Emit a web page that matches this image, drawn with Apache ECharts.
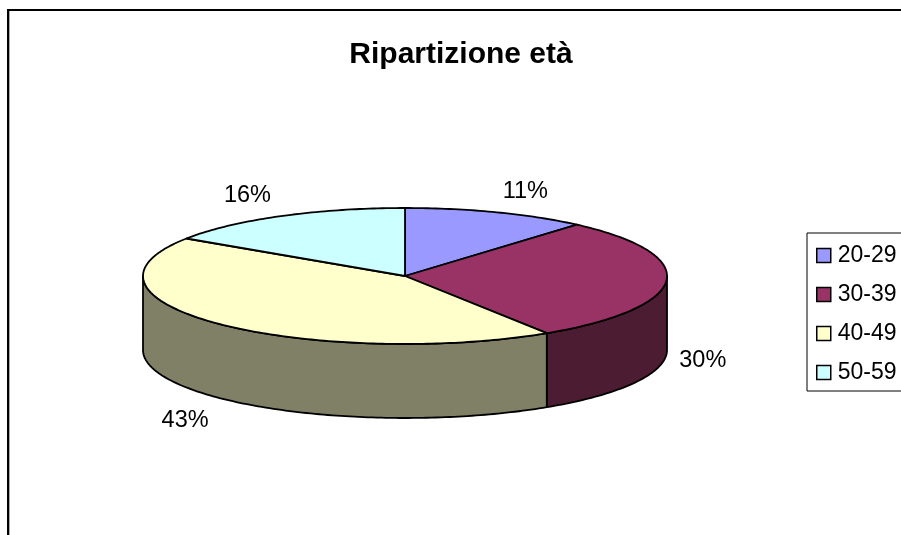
<!DOCTYPE html>
<html>
<head>
<meta charset="utf-8">
<title>Ripartizione età</title>
<style>
  html, body { margin: 0; padding: 0; background: #fff; }
  #main-chart { width: 901px; height: 535px; }
</style>
<script src="https://cdn.jsdelivr.net/npm/echarts@6/dist/echarts.min.js"></script>
</head>
<body>
<div id="main-chart"></div>
<script>
const categories = ["20-29", "30-39", "40-49", "50-59"];
const shares = [11.4, 29.5, 43.4, 15.7];
const topColors = ["#9999ff", "#993366", "#ffffcc", "#ccffff"];
const sideColors = ["#4c4c80", "#4c1c33", "#808066", "#668080"];

// flattened pie: ellipse on the page plus the height of the wall
const cx = 405, cy = 276, rx = 262, ry = 68, depth = 74;
const total = shares.reduce((a, b) => a + b, 0);
const font = '"Liberation Sans", Arial, sans-serif';

function toAngle(v) {
  return echarts.number.linearMap(v, [0, total], [0, 360]);
}

// angle is clockwise from the top of the pie
function rim(deg, drop) {
  const a = deg * Math.PI / 180;
  return [cx + rx * Math.sin(a), cy - ry * Math.cos(a) + (drop || 0)];
}

function arc(from, to, drop) {
  const pts = [];
  const steps = Math.max(1, Math.ceil(to - from));
  for (let i = 0; i <= steps; i++) {
    pts.push(rim(from + (to - from) * i / steps, drop));
  }
  return pts;
}

function clamp(v) {
  return Math.max(-1, Math.min(1, v));
}

function sliceItem(index, params, api) {
  const before = shares.slice(0, index).reduce((a, b) => a + b, 0);
  const start = toAngle(before);
  const end = toAngle(before + api.value(0));
  const stroke = { stroke: "#000", lineWidth: 1.8, lineJoin: "round" };
  const children = [];

  // wall is only seen on the front half
  const wallFrom = Math.max(start, 90);
  const wallTo = Math.min(end, 270);
  if (wallTo > wallFrom) {
    const points = arc(wallFrom, wallTo, 0).concat(arc(wallFrom, wallTo, depth).reverse());
    children.push({
      type: "polygon",
      shape: { points },
      style: { fill: sideColors[index], ...stroke }
    });
  }

  children.push({
    type: "polygon",
    shape: { points: [[cx, cy]].concat(arc(start, end, 0)) },
    style: { fill: topColors[index], ...stroke }
  });

  const mid = (start + end) / 2;
  const a = mid * Math.PI / 180;
  const anchor = rim(mid, mid > 90 && mid < 270 ? depth : 0);
  children.push({
    type: "text",
    x: anchor[0] + 35 * clamp(Math.sin(a) * 2.2) + 1.5,
    y: anchor[1] - 22 * clamp(Math.cos(a) * 3) + 1,
    style: {
      text: Math.round(api.value(0) / total * 100) + "%",
      fontFamily: font,
      fontSize: 23.5,
      fill: "#000",
      align: "center",
      verticalAlign: "middle"
    }
  });

  return { type: "group", children };
}

const chart = echarts.init(document.getElementById("main-chart"), null, { renderer: "canvas" });

chart.setOption({
  animation: false,
  backgroundColor: "#fff",
  title: {
    text: "Ripartizione età",
    left: 461,
    top: 40,
    padding: 0,
    textAlign: "center",
    textStyle: { fontFamily: font, fontSize: 30, fontWeight: "bold", color: "#000" }
  },
  legend: {
    data: categories,
    orient: "vertical",
    left: 807,
    top: 233,
    padding: [11, 30, 7, 9],
    itemWidth: 14,
    itemHeight: 14,
    itemGap: 16,
    icon: "rect",
    selectedMode: false,
    borderColor: "#000",
    borderWidth: 1,
    backgroundColor: "#fff",
    itemStyle: { borderColor: "#000", borderWidth: 1.5 },
    textStyle: { fontFamily: font, fontSize: 23, color: "#000", padding: [0, 0, 0, 2] }
  },
  graphic: [{
    type: "rect",
    shape: { x: 8, y: 10, width: 1200, height: 900 },
    style: { fill: null, stroke: "#000", lineWidth: 2 },
    silent: true,
    z: 0
  }, {
    type: "line",
    shape: { x1: 9.5, y1: 11, x2: 9.5, y2: 535 },
    style: { stroke: "#aaa", lineWidth: 1 },
    silent: true,
    z: 0
  }],
  series: categories.map((name, i) => ({
    type: "custom",
    name,
    coordinateSystem: "none",
    itemStyle: { color: topColors[i] },
    renderItem: (params, api) => sliceItem(i, params, api),
    data: [[shares[i]]],
    silent: true
  }))
});

window.addEventListener("resize", () => chart.resize());
</script>
</body>
</html>
